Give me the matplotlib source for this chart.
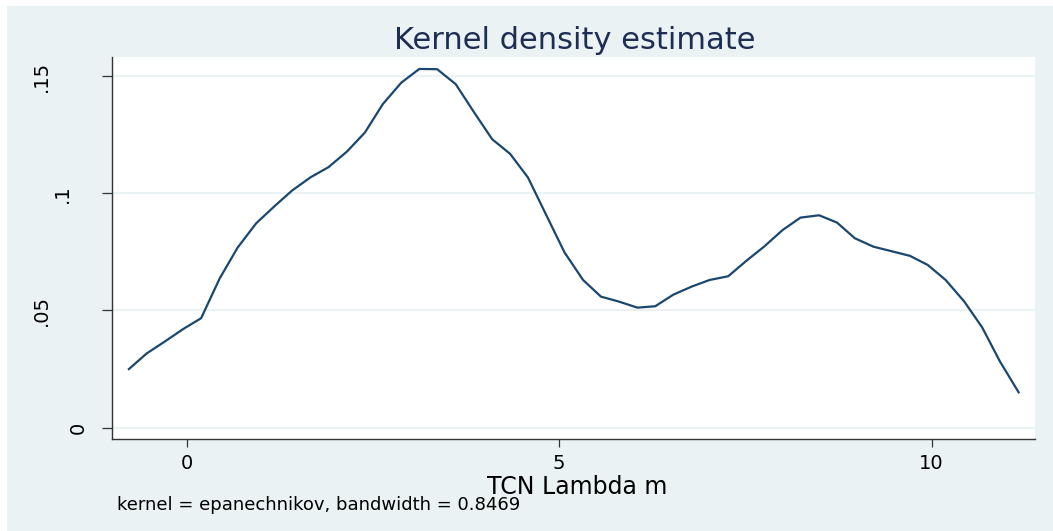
import matplotlib
matplotlib.use("Agg")
import matplotlib.pyplot as plt
from matplotlib.patches import Rectangle
from matplotlib.transforms import ScaledTranslation

# Data (Stata kdensity, 50 evaluation points)
tcn_lambda_m = [-0.78, -0.54, -0.30, -0.05, 0.19, 0.44, 0.68, 0.93, 1.17, 1.41,
                1.66, 1.90, 2.15, 2.39, 2.63, 2.88, 3.12, 3.36, 3.61, 3.85,
                4.10, 4.34, 4.58, 4.83, 5.07, 5.32, 5.56, 5.80, 6.05, 6.29,
                6.53, 6.78, 7.02, 7.27, 7.51, 7.75, 8.00, 8.24, 8.49, 8.73,
                8.97, 9.22, 9.46, 9.71, 9.95, 10.19, 10.44, 10.68, 10.92, 11.17]
density = [0.0250, 0.0317, 0.0367, 0.0421, 0.0467, 0.0637, 0.0768, 0.0872, 0.0943, 0.1011,
           0.1068, 0.1111, 0.1178, 0.1259, 0.1380, 0.1472, 0.1530, 0.1529, 0.1465, 0.1348,
           0.1230, 0.1168, 0.1067, 0.0904, 0.0748, 0.0630, 0.0559, 0.0538, 0.0512, 0.0518,
           0.0567, 0.0602, 0.0630, 0.0646, 0.0711, 0.0772, 0.0843, 0.0896, 0.0906, 0.0875,
           0.0808, 0.0772, 0.0753, 0.0733, 0.0694, 0.0630, 0.0538, 0.0428, 0.0282, 0.0151]

x_ticks = [0, 5, 10]
x_tick_labels = ["0", "5", "10"]
y_ticks = [0, 0.05, 0.10, 0.15]
y_tick_labels = ["0", ".05", ".1", ".15"]

title_text = "Kernel density estimate"
x_label = "TCN Lambda m"
note_text = "kernel = epanechnikov, bandwidth = 0.8469"

BG = "#EAF2F3"
LINE = "#1A476F"
GRID = "#EAF2F3"
TITLE_C = "#1E2D53"

plt.rcParams['font.family'] = ['DejaVu Sans']

W, H = 1053, 531
fig = plt.figure(figsize=(W / 100, H / 100), dpi=100)
fig.patch.set_facecolor("white")
fig.patches.append(Rectangle((7 / W, 0), 1 - 7 / W, 1 - 6 / H, transform=fig.transFigure,
                             facecolor=BG, edgecolor="none", zorder=-10))

ax = fig.add_axes([112 / W, 1 - 439 / H, (1035 - 112) / W, (439 - 57) / H])
ax.set_facecolor("white")
ax.plot(tcn_lambda_m, density, color=LINE, lw=1.6, solid_joinstyle='round')

ax.set_xlim(-1.007, 11.39)
ax.set_ylim(-0.00482, 0.1581)

ax.set_xticks(x_ticks)
ax.set_xticklabels(x_tick_labels, fontsize=14)
ax.set_yticks(y_ticks)
ax.set_yticklabels(y_tick_labels, fontsize=14, rotation=90, va='center', ha='right')

ax.yaxis.grid(True, color=GRID, lw=1.5)
ax.set_axisbelow(True)
for s in ["top", "right"]:
    ax.spines[s].set_visible(False)
for s in ["left", "bottom"]:
    ax.spines[s].set_color("#333333")
    ax.spines[s].set_linewidth(1.0)
ax.tick_params(axis='y', length=7.2, width=0.9, color="#333333", pad=37)
ax.tick_params(axis='x', length=5.5, width=0.9, color="#333333", pad=5)

# Stata places shorter rotated labels closer to the axis
shift_px = {"0": 37, ".1": 21}
for lab in ax.get_yticklabels():
    dx = shift_px.get(lab.get_text(), 0)
    if dx:
        lab.set_transform(lab.get_transform() + ScaledTranslation(dx / 100, 0, fig.dpi_scale_trans))

fig.text(575 / W, 1 - 49 / H, title_text, ha='center', va='baseline',
         fontsize=22, color=TITLE_C)
fig.text(577 / W, 1 - 494 / H, x_label, ha='center', va='baseline',
         fontsize=17, color="black")
fig.text(117 / W, 1 - 510.5 / H, note_text, ha='left', va='baseline',
         fontsize=13, color="black")

fig.savefig("out.png", dpi=100, facecolor=fig.get_facecolor())
